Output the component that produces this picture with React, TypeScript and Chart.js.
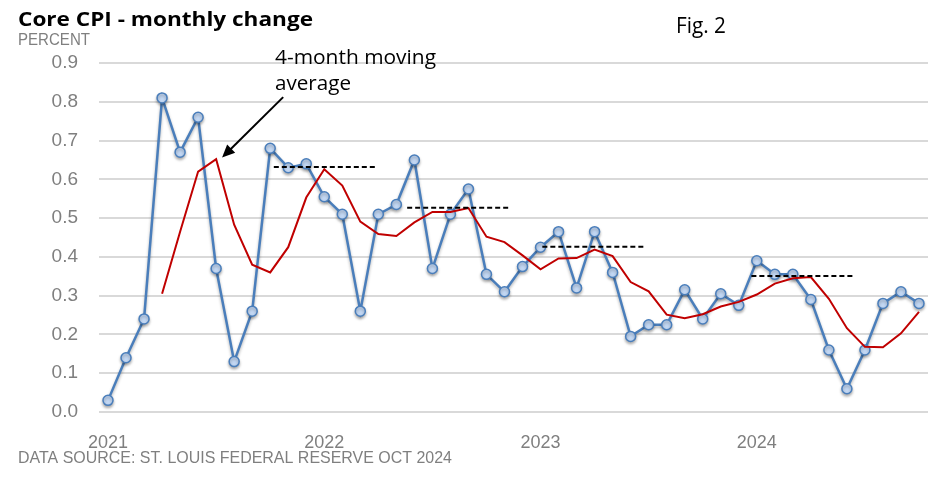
import { useEffect, useRef } from "react";
import { Chart, registerables } from "chart.js";

Chart.register(...registerables);

// ---- data ----
const yearLabels = ["2021", "2022", "2023", "2024"];
const yearTickIndex = [0, 12, 24, 36];

// Core CPI monthly change (percent), Jan 2021 .. Oct 2024
const coreCpi = [
  0.03, 0.14, 0.24, 0.81, 0.67, 0.76, 0.37, 0.13, 0.26, 0.68, 0.63, 0.64,
  0.555, 0.51, 0.26, 0.51, 0.535, 0.65, 0.37, 0.51, 0.575, 0.355, 0.31, 0.375,
  0.425, 0.465, 0.32, 0.465, 0.36, 0.195, 0.225, 0.225, 0.315, 0.24, 0.305, 0.275,
  0.39, 0.355, 0.355, 0.29, 0.16, 0.06, 0.16, 0.28, 0.31, 0.28,
];

// 4-month moving average, starting at Apr 2021 (month index 3)
const maStart = 3;
const movingAvg = [
  0.305, 0.465, 0.62, 0.652, 0.483, 0.38, 0.36, 0.425, 0.553,
  0.626, 0.584, 0.491, 0.459, 0.454, 0.489, 0.516, 0.516, 0.526, 0.452, 0.438, 0.404,
  0.368, 0.396, 0.397, 0.419, 0.402, 0.335, 0.311, 0.251, 0.242, 0.252, 0.272, 0.284,
  0.303, 0.331, 0.345, 0.348, 0.292, 0.216, 0.168, 0.167, 0.203, 0.258,
];

// dashed level segments (month index start/end, level)
const dashStart = [9.2, 16.6, 24.1, 35.7];
const dashEnd = [14.9, 22.3, 29.8, 41.4];
const dashLevel = [0.632, 0.527, 0.426, 0.351];

// annotation arrow (data coordinates)
const arrowTail = { x: 9.72, y: 0.812 };
const arrowTip = { x: 6.33, y: 0.656 };

export default function App() {
  const ref = useRef<HTMLCanvasElement>(null);

  useEffect(() => {
    if (!ref.current) return;

    const fitText = (
      ctx: CanvasRenderingContext2D,
      text: string,
      x: number,
      y: number,
      font: string,
      color: string,
      width: number
    ) => {
      ctx.save();
      ctx.font = font;
      ctx.fillStyle = color;
      ctx.textAlign = "left";
      ctx.textBaseline = "alphabetic";
      const w = ctx.measureText(text).width;
      const s = width / w;
      ctx.translate(x, y);
      ctx.scale(s, 1);
      ctx.fillText(text, 0, 0);
      ctx.restore();
    };

    const textPlugin = {
      id: "texts",
      afterDraw(chart: any) {
        const ctx: CanvasRenderingContext2D = chart.ctx;
        fitText(ctx, "Core CPI - monthly change", 18, 26, "bold 20px 'Open Sans'", "#000", 295);
        fitText(ctx, "PERCENT", 18, 45, "16px 'Liberation Sans'", "#7f7f7f", 72);
        fitText(ctx, "Fig. 2", 676, 33, "21px 'Open Sans'", "#000", 50);
        fitText(ctx, "4-month moving", 275, 64, "20px 'Open Sans'", "#000", 161);
        fitText(ctx, "average", 275, 90, "20px 'Open Sans'", "#000", 76);
        fitText(
          ctx,
          "DATA SOURCE: ST. LOUIS FEDERAL RESERVE OCT 2024",
          18,
          463,
          "17px 'Liberation Sans'",
          "#7f7f7f",
          434
        );

        // arrow
        const xs = chart.scales.x;
        const ys = chart.scales.y;
        const x1 = xs.getPixelForValue(arrowTail.x);
        const y1 = ys.getPixelForValue(arrowTail.y);
        const x2 = xs.getPixelForValue(arrowTip.x);
        const y2 = ys.getPixelForValue(arrowTip.y);
        const ang = Math.atan2(y2 - y1, x2 - x1);
        const head = 14;
        const half = 0.42;
        ctx.save();
        ctx.strokeStyle = "#000";
        ctx.fillStyle = "#000";
        ctx.lineWidth = 2;
        ctx.beginPath();
        ctx.moveTo(x1, y1);
        ctx.lineTo(x2 - Math.cos(ang) * head * 0.8, y2 - Math.sin(ang) * head * 0.8);
        ctx.stroke();
        ctx.beginPath();
        ctx.moveTo(x2, y2);
        ctx.lineTo(x2 - head * Math.cos(ang - half), y2 - head * Math.sin(ang - half));
        ctx.lineTo(x2 - head * Math.cos(ang + half), y2 - head * Math.sin(ang + half));
        ctx.closePath();
        ctx.fill();
        ctx.restore();
      },
    };

    const shadowPlugin = {
      id: "pointShadow",
      beforeDatasetDraw(chart: any, args: any) {
        if (chart.data.datasets[args.index].label === "Core CPI") {
          const ctx = chart.ctx;
          ctx.save();
          ctx.shadowColor = "rgba(0,0,0,0.3)";
          ctx.shadowBlur = 3;
          ctx.shadowOffsetX = 0;
          ctx.shadowOffsetY = 2;
        }
      },
      afterDatasetDraw(chart: any, args: any) {
        if (chart.data.datasets[args.index].label === "Core CPI") {
          chart.ctx.restore();
        }
      },
    };

    const dashSets = dashLevel.map((lv, i) => ({
      label: "level" + i,
      data: [
        { x: dashStart[i], y: lv },
        { x: dashEnd[i], y: lv },
      ],
      borderColor: "#000",
      borderWidth: 2,
      borderDash: [5, 3],
      pointRadius: 0,
      order: 0,
    }));

    const chart = new Chart(ref.current, {
      type: "line",
      data: {
        datasets: [
          ...dashSets,
          {
            label: "4-month MA",
            data: movingAvg.map((v, i) => ({ x: i + maStart, y: v })),
            borderColor: "#c00000",
            borderWidth: 2,
            pointRadius: 0,
            order: 1,
          },
          {
            label: "Core CPI",
            data: coreCpi.map((v, i) => ({ x: i, y: v })),
            borderColor: "#4a7ebb",
            borderWidth: 2.5,
            pointRadius: 5,
            pointBackgroundColor: "#c2d7f3",
            pointBorderColor: "#4a7ebb",
            pointBorderWidth: 1.5,
            order: 2,
          },
        ] as any,
      },
      options: {
        animation: false,
        responsive: true,
        maintainAspectRatio: false,
        layout: { padding: { left: 0, right: 24, top: 63, bottom: 0 } },
        plugins: {
          legend: { display: false },
          tooltip: { enabled: false },
          title: { display: false },
        },
        scales: {
          x: {
            type: "linear",
            min: -0.5,
            max: 45.5,
            grid: { display: false, drawTicks: false },
            border: { display: false },
            afterBuildTicks: (axis: any) => {
              axis.ticks = yearTickIndex.map((v) => ({ value: v }));
            },
            afterFit: (axis: any) => {
              axis.height = 71;
            },
            ticks: {
              autoSkip: false,
              maxRotation: 0,
              padding: 20,
              color: "#7f7f7f",
              font: { family: "'Liberation Sans'", size: 18 },
              callback: (v: any) => {
                const k = yearTickIndex.indexOf(Number(v));
                return k >= 0 ? yearLabels[k] : "";
              },
            },
          },
          y: {
            min: 0,
            max: 0.9,
            grid: { color: "#d9d9d9", lineWidth: 2, drawTicks: false },
            border: { display: false },
            afterFit: (axis: any) => {
              axis.width = 99;
            },
            ticks: {
              stepSize: 0.1,
              padding: 21,
              color: "#7f7f7f",
              font: { family: "'Liberation Sans'", size: 19 },
              callback: (v: any) => Number(v).toFixed(1),
            },
          },
        },
      } as any,
      plugins: [shadowPlugin, textPlugin],
    });

    return () => chart.destroy();
  }, []);

  return (
    <div style={{ position: "absolute", left: 0, top: 0, width: 952, height: 483, background: "#fff" }}>
      <canvas ref={ref} />
    </div>
  );
}
